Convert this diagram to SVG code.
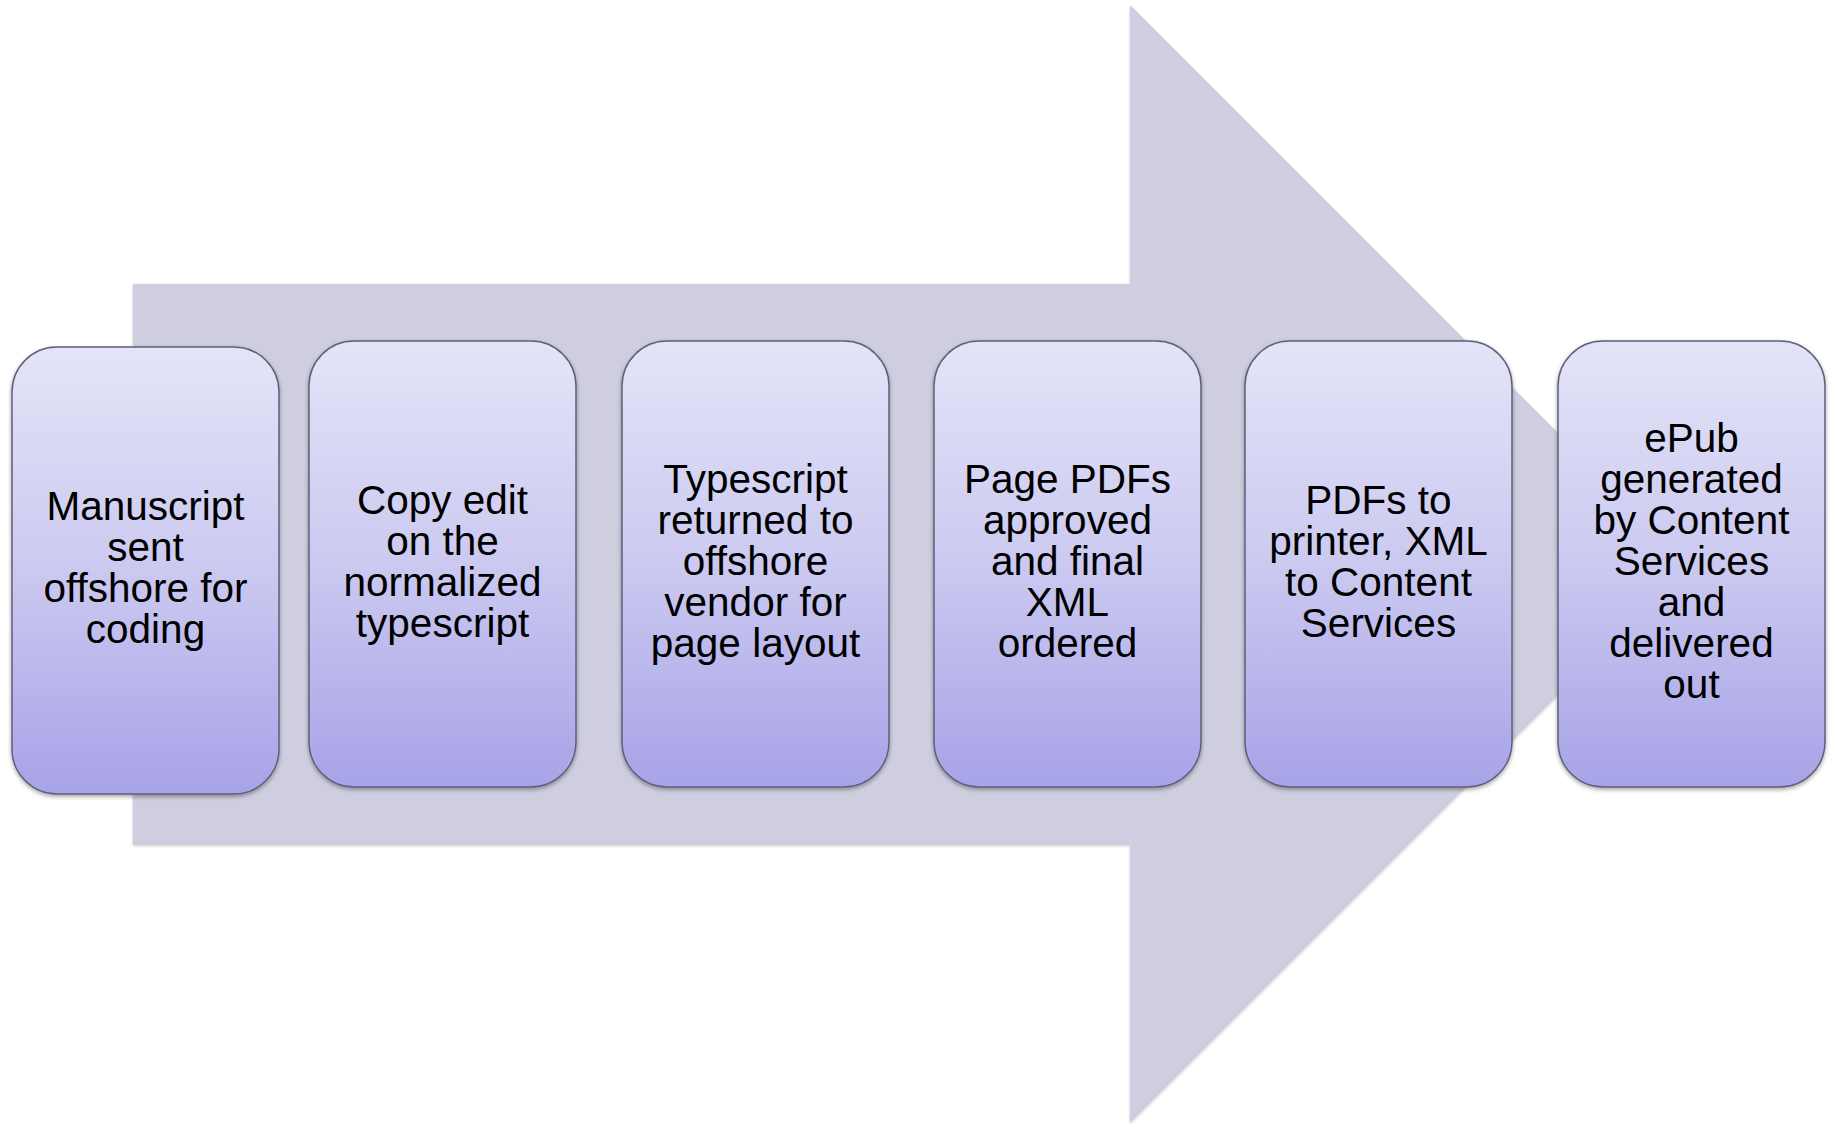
<svg xmlns="http://www.w3.org/2000/svg" width="1837" height="1127" viewBox="0 0 1837 1127">
  <defs>
    <linearGradient id="boxGrad" x1="0" y1="0" x2="0" y2="1">
      <stop offset="0" stop-color="#e4e4f8"/>
      <stop offset="0.5" stop-color="#cbc9f0"/>
      <stop offset="1" stop-color="#a7a3e8"/>
    </linearGradient>
    <filter id="shadow" x="-10%" y="-10%" width="120%" height="120%">
      <feDropShadow dx="0" dy="2" stdDeviation="2" flood-color="#000" flood-opacity="0.35"/>
    </filter>
    <filter id="arrowShadow" x="-5%" y="-5%" width="110%" height="110%">
      <feDropShadow dx="0" dy="1" stdDeviation="1.5" flood-color="#000" flood-opacity="0.2"/>
    </filter>
  </defs>
  <style>
    .box { fill: url(#boxGrad); stroke: #5f5f7a; stroke-width: 1.5; filter: url(#shadow); }
    .lbl { font-family: "Liberation Sans", Arial, sans-serif; font-size: 40.5px; fill: #000; text-anchor: middle; }
    .arrow { fill: #cecee0; filter: url(#arrowShadow); }
  </style>
  <rect width="1837" height="1127" fill="#ffffff"/>
  <g id="connectors">
    <polygon class="arrow" points="133,284 1130,284 1130,5 1689,564 1130,1123 1130,845 133,845"/>
  </g>
  <g id="node1">
    <rect class="box" x="12" y="347" width="267" height="447" rx="45" ry="45"/>
    <text class="lbl" x="145.5" y="520">Manuscript</text>
    <text class="lbl" x="145.5" y="561">sent</text>
    <text class="lbl" x="145.5" y="602">offshore for</text>
    <text class="lbl" x="145.5" y="643">coding</text>
  </g>
  <g id="node2">
    <rect class="box" x="309" y="341" width="267" height="446" rx="45" ry="45"/>
    <text class="lbl" x="442.5" y="513.5">Copy edit</text>
    <text class="lbl" x="442.5" y="554.5">on the</text>
    <text class="lbl" x="442.5" y="595.5">normalized</text>
    <text class="lbl" x="442.5" y="636.5">typescript</text>
  </g>
  <g id="node3">
    <rect class="box" x="622" y="341" width="267" height="446" rx="45" ry="45"/>
    <text class="lbl" x="755.5" y="493">Typescript</text>
    <text class="lbl" x="755.5" y="534">returned to</text>
    <text class="lbl" x="755.5" y="575">offshore</text>
    <text class="lbl" x="755.5" y="616">vendor for</text>
    <text class="lbl" x="755.5" y="657">page layout</text>
  </g>
  <g id="node4">
    <rect class="box" x="934" y="341" width="267" height="446" rx="45" ry="45"/>
    <text class="lbl" x="1067.5" y="493">Page PDFs</text>
    <text class="lbl" x="1067.5" y="534">approved</text>
    <text class="lbl" x="1067.5" y="575">and final</text>
    <text class="lbl" x="1067.5" y="616">XML</text>
    <text class="lbl" x="1067.5" y="657">ordered</text>
  </g>
  <g id="node5">
    <rect class="box" x="1245" y="341" width="267" height="446" rx="45" ry="45"/>
    <text class="lbl" x="1378.5" y="513.5">PDFs to</text>
    <text class="lbl" x="1378.5" y="554.5">printer, XML</text>
    <text class="lbl" x="1378.5" y="595.5">to Content</text>
    <text class="lbl" x="1378.5" y="636.5">Services</text>
  </g>
  <g id="node6">
    <rect class="box" x="1558" y="341" width="267" height="446" rx="45" ry="45"/>
    <text class="lbl" x="1691.5" y="452">ePub</text>
    <text class="lbl" x="1691.5" y="493">generated</text>
    <text class="lbl" x="1691.5" y="534">by Content</text>
    <text class="lbl" x="1691.5" y="575">Services</text>
    <text class="lbl" x="1691.5" y="616">and</text>
    <text class="lbl" x="1691.5" y="657">delivered</text>
    <text class="lbl" x="1691.5" y="698">out</text>
  </g>
</svg>
